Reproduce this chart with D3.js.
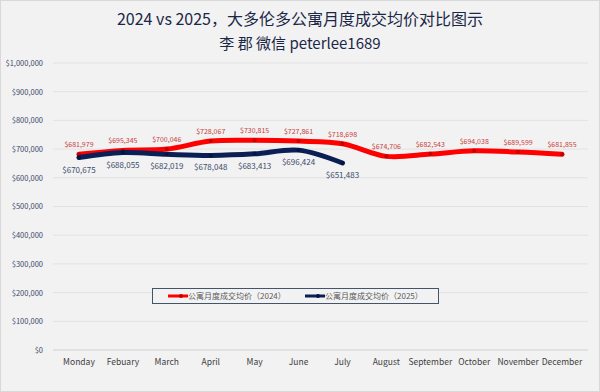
<!DOCTYPE html>
<html>
<head>
<meta charset="utf-8">
<script src="https://cdn.jsdelivr.net/npm/d3@7"></script>
<style>
  body { margin: 0; background: #ffffff; }
  text { font-family: "Noto Sans CJK SC", "Noto Sans", sans-serif; }
</style>
</head>
<body>
<div id="chart"></div>
<script>
// Data
const months = ["Monday", "Febuary", "March", "April", "May", "June", "July",
  "August", "September", "October", "November", "December"];
const price2024 = [681979, 695345, 700046, 728067, 730815, 727861, 718698,
  674706, 682543, 694038, 689599, 681855];
const price2025 = [670675, 688055, 682019, 678048, 683413, 696424, 651483];
const yTicks = [0, 100000, 200000, 300000, 400000, 500000, 600000, 700000, 800000, 900000, 1000000];
const seriesNames = ["公寓月度成交均价（2024）", "公寓月度成交均价（2025）"];

const svgWidth = 600;
const svgHeight = 392;
const margin = { top: 63, right: 16, bottom: 42, left: 57 };
const width = svgWidth - margin.left - margin.right;
const height = svgHeight - margin.top - margin.bottom;

const svg = d3.select("#chart")
  .append("svg")
  .attr("width", svgWidth)
  .attr("height", svgHeight);

// background + frame
svg.append("rect")
  .attr("x", 0.5).attr("y", 0.5)
  .attr("width", svgWidth - 1).attr("height", svgHeight - 1)
  .attr("fill", "#f2f2f2")
  .attr("stroke", "#d9d9d9");

// titles
svg.append("text")
  .attr("x", 300).attr("y", 25)
  .attr("text-anchor", "middle")
  .attr("font-size", 16)
  .attr("fill", "#1a2747")
  .text("2024 vs 2025，大多伦多公寓月度成交均价对比图示");

svg.append("text")
  .attr("x", 300).attr("y", 49)
  .attr("text-anchor", "middle")
  .attr("font-size", 15)
  .attr("fill", "#1a2747")
  .text("李 郡 微信 peterlee1689");

const chartGroup = svg.append("g")
  .attr("transform", `translate(${margin.left}, ${margin.top})`);

const xScale = d3.scaleBand()
  .domain(months)
  .range([0, width]);

const yScale = d3.scaleLinear()
  .domain([0, 1000000])
  .range([height, 0]);

const xPos = d => xScale(d) + xScale.bandwidth() / 2;

// gridlines
chartGroup.selectAll(".grid")
  .data(yTicks)
  .join("line")
  .attr("class", "grid")
  .attr("x1", -4)
  .attr("x2", width + 4)
  .attr("y1", d => yScale(d))
  .attr("y2", d => yScale(d))
  .attr("stroke", d => d === 0 ? "#d0d0d0" : "#e2e2e2")
  .attr("stroke-width", 1);

// y axis labels
const leftAxis = d3.axisLeft(yScale)
  .tickValues(yTicks)
  .tickSize(0)
  .tickPadding(14)
  .tickFormat(d => "$" + d3.format(",")(d));

const yAxisG = chartGroup.append("g").call(leftAxis);
yAxisG.select(".domain").remove();
yAxisG.selectAll("text")
  .attr("font-size", 7.5)
  .attr("fill", "#3b4a6b")
  .attr("font-family", "\"Liberation Sans\", sans-serif");

// x axis labels
const bottomAxis = d3.axisBottom(xScale).tickSize(0).tickPadding(9);
const xAxisG = chartGroup.append("g")
  .attr("transform", `translate(0, ${height})`)
  .call(bottomAxis);
xAxisG.select(".domain").remove();
xAxisG.selectAll("text")
  .attr("font-size", 8.5)
  .attr("fill", "#404040")
  .attr("font-family", "\"DejaVu Sans\", sans-serif");

// lines
const line = d3.line()
  .x((d, i) => xPos(months[i]))
  .y(d => yScale(d))
  .curve(d3.curveCatmullRom.alpha(0.5));

chartGroup.append("path")
  .datum(price2024)
  .attr("fill", "none")
  .attr("stroke", "#ff0000")
  .attr("stroke-width", 5)
  .attr("stroke-linecap", "round")
  .attr("d", line);

chartGroup.selectAll(".m24")
  .data(price2024)
  .join("circle")
  .attr("class", "m24")
  .attr("cx", (d, i) => xPos(months[i]))
  .attr("cy", d => yScale(d))
  .attr("r", 2)
  .attr("fill", "#c00000");

chartGroup.append("path")
  .datum(price2025)
  .attr("fill", "none")
  .attr("stroke", "#0a1f55")
  .attr("stroke-width", 5)
  .attr("stroke-linecap", "round")
  .attr("d", line);

chartGroup.selectAll(".m25")
  .data(price2025)
  .join("circle")
  .attr("class", "m25")
  .attr("cx", (d, i) => xPos(months[i]))
  .attr("cy", d => yScale(d))
  .attr("r", 2)
  .attr("fill", "#051540");

const money = d => "$" + d3.format(",")(d);

// data labels
chartGroup.selectAll(".l24")
  .data(price2024)
  .join("text")
  .attr("class", "l24")
  .attr("x", (d, i) => xPos(months[i]))
  .attr("y", d => yScale(d) - 7)
  .attr("text-anchor", "middle")
  .attr("font-size", 7)
  .attr("fill", "#c9413b")
  .attr("font-family", "\"Liberation Sans\", sans-serif")
  .text(money);

chartGroup.selectAll(".l25")
  .data(price2025)
  .join("text")
  .attr("class", "l25")
  .attr("x", (d, i) => xPos(months[i]))
  .attr("y", d => yScale(d) + 15)
  .attr("text-anchor", "middle")
  .attr("font-size", 8)
  .attr("fill", "#3b4a6b")
  .attr("font-family", "\"Liberation Sans\", sans-serif")
  .text(money);

// legend
const legend = svg.append("g").attr("transform", "translate(152, 288)");
legend.append("rect")
  .attr("x", 0.5).attr("y", 0.5)
  .attr("width", 286).attr("height", 15)
  .attr("fill", "#f2f2f2")
  .attr("stroke", "#44546a")
  .attr("stroke-width", 1);

const legendItems = [
  { name: seriesNames[0], color: "#ff0000", dot: "#c00000", x: 16 },
  { name: seriesNames[1], color: "#0a1f55", dot: "#051540", x: 153 }
];

legendItems.forEach(item => {
  legend.append("line")
    .attr("x1", item.x).attr("x2", item.x + 20)
    .attr("y1", 8).attr("y2", 8)
    .attr("stroke", item.color)
    .attr("stroke-width", 3);
  legend.append("circle")
    .attr("cx", item.x + 13).attr("cy", 8)
    .attr("r", 2)
    .attr("fill", item.dot);
  legend.append("text")
    .attr("x", item.x + 20).attr("y", 11)
    .attr("font-size", 8)
    .attr("fill", "#595959")
    .text(item.name);
});
</script>
</body>
</html>
